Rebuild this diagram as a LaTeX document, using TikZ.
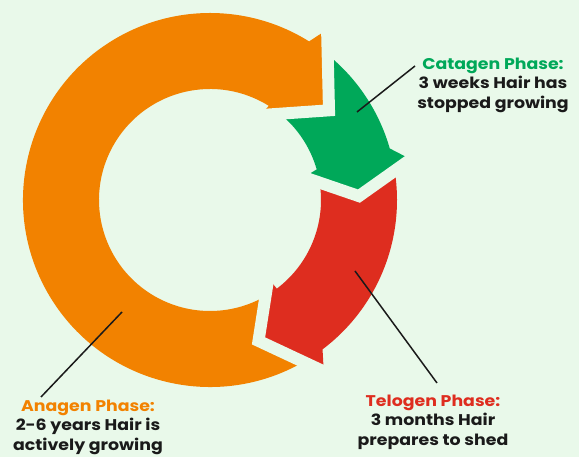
\documentclass[tikz,border=0pt]{standalone}
\usepackage{fontspec}
\setmainfont{Poppins}[FakeStretch=1.12]
\usetikzlibrary{calc}
\definecolor{bgmint}{HTML}{E9F9EA}
\definecolor{anaorange}{HTML}{F28200}
\definecolor{catgreen}{HTML}{00A859}
\definecolor{telred}{HTML}{DE2D1F}
\definecolor{ink}{HTML}{1A1A1A}
\begin{document}
\begin{tikzpicture}
  [
    x=1pt,
    y=1pt,
    gap/.style={
      draw=bgmint,
      line width=12pt,
      line join=miter,
      miter limit=20
    },
    leader/.style={
      draw=ink,
      line width=1.5pt
    },
    phase/.style={
      align=center,
      text=ink,
      inner sep=0pt,
      font=\bfseries\fontsize{15.5}{19.5}\selectfont
    }
  ]

  \fill [bgmint] (0,0) rectangle (579,457);
  \useasboundingbox (0,0) rectangle (579,457);

  % ring of three arrows, clockwise
  \begin{scope}[shift={(210,257)}]
    \foreach \a/\b/\hh/\ht/\c in {300/51/14/11/anaorange, 51/9/7.5/14/catgreen, 9/-60/11/7.5/telred} {
        \fill [\c] (\a:187) arc [start angle=\a, end angle=\b+7, radius=187]
          -- ($({\b-\hh}:149)!1.45!(\b:187)$) -- ({\b-\hh}:149)
          -- ($({\b-\hh}:149)!1.4!(\b:111)$) -- ({\b+7}:111)
          arc [start angle=\b+7, end angle=\a, radius=111]
          -- ({\a-\ht}:149) -- cycle;
    }
    \foreach \b/\hh in {51/14, 9/7.5, -60/11} {
        \draw [gap] ($({\b-\hh}:149)!1.8!(\b:187)$) -- ({\b-\hh}:149) -- ($({\b-\hh}:149)!1.8!(\b:111)$);
    }
  \end{scope}

  \node [phase] (catagen) at (493,372) {\textcolor{catgreen}{Catagen Phase:}\\3 weeks Hair has\\stopped growing};
  \node [phase] (telogen) at (433,35) {\textcolor{telred}{Telogen Phase:}\\3 months Hair\\prepares to shed};
  \node [phase] (anagen) at (88,30) {\textcolor{anaorange}{Anagen Phase:}\\2-6 years Hair is\\actively growing};

  \coordinate (catagen in) at (357,345);
  \coordinate (catagen out) at (415,391);
  \coordinate (telogen in) at (355,186);
  \coordinate (telogen out) at (437,74);
  \coordinate (anagen in) at (122,145);
  \coordinate (anagen out) at (41,60);

  \draw [leader] (catagen in) -- (catagen out);
  \draw [leader] (telogen in) -- (telogen out);
  \draw [leader] (anagen in) -- (anagen out);

\end{tikzpicture}
\end{document}
